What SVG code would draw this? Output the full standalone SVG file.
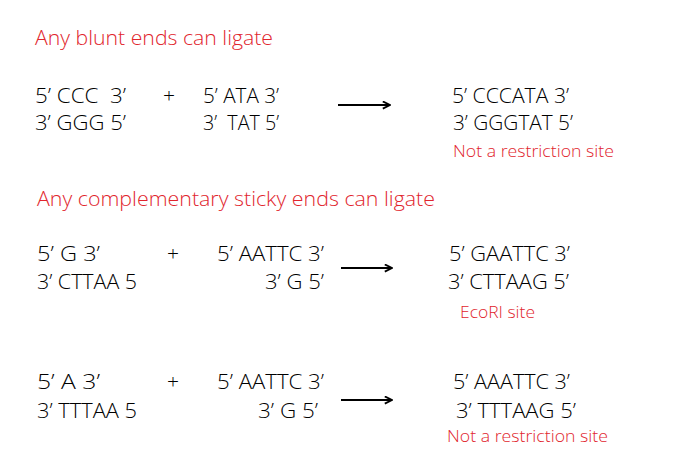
<svg xmlns="http://www.w3.org/2000/svg" width="699" height="456" viewBox="0 0 699 456">
<style>
text{font-family:"Open Sans","Liberation Sans",sans-serif;font-weight:300}
.t{font-size:21px;fill:#e1252d}
.s{font-size:21px;fill:#000}
.r{font-size:17px;fill:#e1252d}
.plus{font-size:21px;fill:#000;text-anchor:middle}
.arr{stroke:#000;stroke-width:2;fill:none}
</style>
<defs>
<marker id="ah" viewBox="0 0 10 10" refX="9" refY="5" markerWidth="9" markerHeight="9" markerUnits="userSpaceOnUse" orient="auto">
<path d="M1,1 L9,5 L1,9" fill="none" stroke="#000" stroke-width="2"/>
</marker>
</defs>
<rect width="699" height="456" fill="#fff"/>

<g id="title-blunt"><text class="t" x="35" y="45" textLength="238" lengthAdjust="spacingAndGlyphs">Any blunt ends can ligate</text></g>
<g id="blunt-left">
<text class="s" x="35" y="103" textLength="91" lengthAdjust="spacingAndGlyphs" xml:space="preserve">5’ CCC  3’</text>
<text class="s" x="35" y="130" textLength="91" lengthAdjust="spacingAndGlyphs">3’ GGG 5’</text>
</g>
<g id="blunt-plus"><text class="plus" x="169" y="103">+</text></g>
<g id="blunt-right">
<text class="s" x="203" y="103" textLength="76" lengthAdjust="spacingAndGlyphs">5’ ATA 3’</text>
<text class="s" x="203" y="130" textLength="76" lengthAdjust="spacingAndGlyphs" xml:space="preserve">3’  TAT 5’</text>
</g>
<g id="blunt-product">
<text class="s" x="452" y="103" textLength="117" lengthAdjust="spacingAndGlyphs">5’ CCCATA 3’</text>
<text class="s" x="453" y="130" textLength="120" lengthAdjust="spacingAndGlyphs">3’ GGGTAT 5’</text>
<text class="r" x="453" y="157" textLength="161" lengthAdjust="spacingAndGlyphs">Not a restriction site</text>
</g>

<g id="title-sticky"><text class="t" x="37" y="206" textLength="398" lengthAdjust="spacingAndGlyphs">Any complementary sticky ends can ligate</text></g>
<g id="ecori-left">
<text class="s" x="37" y="261" textLength="63" lengthAdjust="spacingAndGlyphs">5’ G 3’</text>
<text class="s" x="37" y="289" textLength="100" lengthAdjust="spacingAndGlyphs">3’ CTTAA 5</text>
</g>
<g id="ecori-plus"><text class="plus" x="173" y="261">+</text></g>
<g id="ecori-right">
<text class="s" x="217" y="261" textLength="107" lengthAdjust="spacingAndGlyphs">5’ AATTC 3’</text>
<text class="s" x="265" y="289" textLength="59" lengthAdjust="spacingAndGlyphs">3’ G 5’</text>
</g>
<g id="ecori-product">
<text class="s" x="449" y="261" textLength="121" lengthAdjust="spacingAndGlyphs">5’ GAATTC 3’</text>
<text class="s" x="448" y="289" textLength="121" lengthAdjust="spacingAndGlyphs">3’ CTTAAG 5’</text>
<text class="r" x="460" y="318" textLength="75" lengthAdjust="spacingAndGlyphs">EcoRI site</text>
</g>

<g id="mismatch-left">
<text class="s" x="37" y="389" textLength="63" lengthAdjust="spacingAndGlyphs">5’ A 3’</text>
<text class="s" x="37" y="418" textLength="100" lengthAdjust="spacingAndGlyphs">3’ TTTAA 5</text>
</g>
<g id="mismatch-plus"><text class="plus" x="173" y="389">+</text></g>
<g id="mismatch-right">
<text class="s" x="217" y="389" textLength="107" lengthAdjust="spacingAndGlyphs">5’ AATTC 3’</text>
<text class="s" x="258" y="418" textLength="60" lengthAdjust="spacingAndGlyphs">3’ G 5’</text>
</g>
<g id="mismatch-product">
<text class="s" x="453" y="389" textLength="117" lengthAdjust="spacingAndGlyphs">5’ AAATTC 3’</text>
<text class="s" x="456" y="418" textLength="120" lengthAdjust="spacingAndGlyphs">3’ TTTAAG 5’</text>
<text class="r" x="447" y="442" textLength="161" lengthAdjust="spacingAndGlyphs">Not a restriction site</text>
</g>

<g id="connectors">
<line class="arr" x1="338" y1="105" x2="390" y2="105" marker-end="url(#ah)"/>
<line class="arr" x1="341" y1="268" x2="392" y2="268" marker-end="url(#ah)"/>
<line class="arr" x1="341" y1="400" x2="392" y2="400" marker-end="url(#ah)"/>
</g>
</svg>
